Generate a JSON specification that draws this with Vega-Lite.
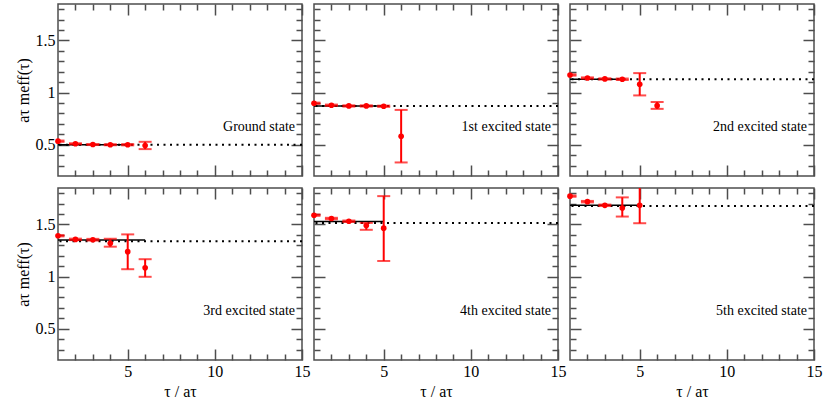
{
  "$schema": "https://vega.github.io/schema/vega-lite/v6.json",
  "padding": {"left": 14, "top": 2, "right": 4, "bottom": 4},
  "background": "white",
  "config": {
    "view": {"stroke": "#4d4d4d", "strokeWidth": 1.5},
    "axis": {
      "grid": false, "domain": false, "tickColor": "#4d4d4d", "tickWidth": 1.5,
      "labelFont": "Liberation Serif, DejaVu Serif, serif", "labelFontSize": 16, "labelColor": "#000",
      "labelPadding": 14, "labelFlush": false,
      "titleFont": "Liberation Serif, DejaVu Serif, serif", "titleFontSize": 16, "titleFontWeight": "normal", "titleColor": "#000"
    },
    "text": {"font": "Liberation Serif, DejaVu Serif, serif"}
  },
  "datasets": {
    "meff": [
      {"state": "g", "tau": 1, "m": 0.534, "lo": 0.528, "hi": 0.540},
      {"state": "g", "tau": 2, "m": 0.509, "lo": 0.504, "hi": 0.514},
      {"state": "g", "tau": 3, "m": 0.502, "lo": 0.497, "hi": 0.507},
      {"state": "g", "tau": 4, "m": 0.500, "lo": 0.495, "hi": 0.505},
      {"state": "g", "tau": 5, "m": 0.500, "lo": 0.494, "hi": 0.506},
      {"state": "g", "tau": 6, "m": 0.493, "lo": 0.458, "hi": 0.528},
      {"state": "g", "plat": 0.499, "fit": 0.500, "f0": 1, "f1": 5, "label": "Ground state"},
      {"state": "e1", "tau": 1, "m": 0.898, "lo": 0.892, "hi": 0.904},
      {"state": "e1", "tau": 2, "m": 0.879, "lo": 0.873, "hi": 0.885},
      {"state": "e1", "tau": 3, "m": 0.872, "lo": 0.866, "hi": 0.878},
      {"state": "e1", "tau": 4, "m": 0.872, "lo": 0.866, "hi": 0.878},
      {"state": "e1", "tau": 5, "m": 0.869, "lo": 0.863, "hi": 0.875},
      {"state": "e1", "tau": 6, "m": 0.581, "lo": 0.330, "hi": 0.834},
      {"state": "e1", "plat": 0.872, "fit": 0.872, "f0": 1, "f1": 5, "label": "1st excited state"},
      {"state": "e2", "tau": 1, "m": 1.169, "lo": 1.163, "hi": 1.175},
      {"state": "e2", "tau": 2, "m": 1.140, "lo": 1.134, "hi": 1.146},
      {"state": "e2", "tau": 3, "m": 1.131, "lo": 1.125, "hi": 1.137},
      {"state": "e2", "tau": 4, "m": 1.128, "lo": 1.121, "hi": 1.135},
      {"state": "e2", "tau": 5, "m": 1.080, "lo": 0.973, "hi": 1.187},
      {"state": "e2", "tau": 6, "m": 0.875, "lo": 0.844, "hi": 0.910},
      {"state": "e2", "plat": 1.128, "fit": 1.128, "f0": 1, "f1": 4, "label": "2nd excited state"},
      {"state": "e3", "tau": 1, "m": 1.392, "lo": 1.386, "hi": 1.398},
      {"state": "e3", "tau": 2, "m": 1.357, "lo": 1.350, "hi": 1.364},
      {"state": "e3", "tau": 3, "m": 1.354, "lo": 1.346, "hi": 1.362},
      {"state": "e3", "tau": 4, "m": 1.319, "lo": 1.287, "hi": 1.363},
      {"state": "e3", "tau": 5, "m": 1.239, "lo": 1.071, "hi": 1.405},
      {"state": "e3", "tau": 6, "m": 1.084, "lo": 0.998, "hi": 1.167},
      {"state": "e3", "plat": 1.338, "fit": 1.350, "f0": 1, "f1": 6, "label": "3rd excited state"},
      {"state": "e4", "tau": 1, "m": 1.589, "lo": 1.583, "hi": 1.595},
      {"state": "e4", "tau": 2, "m": 1.557, "lo": 1.550, "hi": 1.564},
      {"state": "e4", "tau": 3, "m": 1.531, "lo": 1.524, "hi": 1.538},
      {"state": "e4", "tau": 4, "m": 1.490, "lo": 1.449, "hi": 1.515},
      {"state": "e4", "tau": 5, "m": 1.465, "lo": 1.150, "hi": 1.772},
      {"state": "e4", "plat": 1.515, "fit": 1.529, "f0": 1, "f1": 5, "label": "4th excited state"},
      {"state": "e5", "tau": 1, "m": 1.772, "lo": 1.766, "hi": 1.778},
      {"state": "e5", "tau": 2, "m": 1.719, "lo": 1.712, "hi": 1.726},
      {"state": "e5", "tau": 3, "m": 1.684, "lo": 1.677, "hi": 1.691},
      {"state": "e5", "tau": 4, "m": 1.658, "lo": 1.576, "hi": 1.760},
      {"state": "e5", "tau": 5, "m": 1.684, "lo": 1.512, "hi": 1.950},
      {"state": "e5", "plat": 1.677, "fit": 1.684, "f0": 1, "f1": 5, "label": "5th excited state"}
    ]
  },
  "data": {"name": "meff"},
  "columns": 3,
  "spacing": 12,
  "bounds": "flush",
  "concat": [
    {
      "width": 244, "height": 172,
      "transform": [{"filter": "datum.state == 'g'"}],
      "resolve": {"axis": {"x": "independent", "y": "independent"}},
      "layer": [
        {"mark": {"type": "rule", "color": "black", "strokeWidth": 2, "strokeDash": [2, 4.5]},
         "encoding": {"y": {"field": "plat", "type": "quantitative", "scale": {"domain": [0.2, 1.85], "nice": false}, "axis": null}}},
        {"mark": {"type": "rule", "color": "black", "strokeWidth": 1.5},
         "encoding": {"x": {"field": "f0", "type": "quantitative", "scale": {"domain": [1, 15], "nice": false}, "axis": null}, "x2": {"field": "f1"},
                      "y": {"field": "fit", "type": "quantitative", "scale": {"domain": [0.2, 1.85]}, "axis": null}}},
        {"mark": {"type": "rule", "color": "red", "strokeWidth": 2, "clip": true},
         "encoding": {
           "x": {"field": "tau", "type": "quantitative", "scale": {"domain": [1, 15]}, "axis": {"orient": "bottom", "values": [5, 10, 15], "tickSize": -11, "labels": false, "title": null}},
           "y": {"field": "lo", "type": "quantitative", "scale": {"domain": [0.2, 1.85]}, "axis": {"orient": "left", "values": [0.5, 1, 1.5], "tickSize": -11, "format": "~g", "title": "aτ meff(τ)", "titlePadding": 4}},
           "y2": {"field": "hi"}}},
        {"mark": {"type": "tick", "orient": "horizontal", "color": "red", "thickness": 2, "clip": true},
         "encoding": {
           "x": {"field": "tau", "type": "quantitative", "scale": {"domain": [1, 15]}, "axis": {"orient": "top", "values": [5, 10, 15], "tickSize": -11, "labels": false, "title": null}},
           "y": {"field": "lo", "type": "quantitative", "scale": {"domain": [0.2, 1.85]}, "axis": {"orient": "right", "values": [0.5, 1, 1.5], "tickSize": -11, "labels": false, "title": null}},
           "size": {"value": 13}}},
        {"mark": {"type": "tick", "orient": "horizontal", "color": "red", "thickness": 2, "clip": true},
         "encoding": {
           "x": {"field": "tau", "type": "quantitative", "scale": {"domain": [1, 15]}, "axis": {"orient": "bottom", "values": [2, 3, 4, 6, 7, 8, 9, 11, 12, 13, 14], "tickSize": -6, "labels": false, "title": null}},
           "y": {"field": "hi", "type": "quantitative", "scale": {"domain": [0.2, 1.85]}, "axis": {"orient": "left", "values": [0.3, 0.4, 0.6, 0.7, 0.8, 0.9, 1.1, 1.2, 1.3, 1.4, 1.6, 1.7, 1.8], "tickSize": -6, "labels": false, "title": null}},
           "size": {"value": 13}}},
        {"mark": {"type": "point", "filled": true, "color": "red", "size": 32, "opacity": 1},
         "encoding": {
           "x": {"field": "tau", "type": "quantitative", "scale": {"domain": [1, 15]}, "axis": {"orient": "top", "values": [2, 3, 4, 6, 7, 8, 9, 11, 12, 13, 14], "tickSize": -6, "labels": false, "title": null}},
           "y": {"field": "m", "type": "quantitative", "scale": {"domain": [0.2, 1.85]}, "axis": {"orient": "right", "values": [0.3, 0.4, 0.6, 0.7, 0.8, 0.9, 1.1, 1.2, 1.3, 1.4, 1.6, 1.7, 1.8], "tickSize": -6, "labels": false, "title": null}}}},
        {"transform": [{"filter": "isValid(datum.label)"}],
         "mark": {"type": "text", "align": "right", "baseline": "alphabetic", "fontSize": 14, "color": "black"},
         "encoding": {"x": {"datum": 14.6, "type": "quantitative", "axis": null}, "y": {"datum": 0.63, "type": "quantitative", "axis": null}, "text": {"field": "label"}}}
      ]
    },
    {
      "width": 244, "height": 172,
      "transform": [{"filter": "datum.state == 'e1'"}],
      "resolve": {"axis": {"x": "independent", "y": "independent"}},
      "layer": [
        {"mark": {"type": "rule", "color": "black", "strokeWidth": 2, "strokeDash": [2, 4.5]},
         "encoding": {"y": {"field": "plat", "type": "quantitative", "scale": {"domain": [0.2, 1.85], "nice": false}, "axis": null}}},
        {"mark": {"type": "rule", "color": "black", "strokeWidth": 1.5},
         "encoding": {"x": {"field": "f0", "type": "quantitative", "scale": {"domain": [1, 15], "nice": false}, "axis": null}, "x2": {"field": "f1"},
                      "y": {"field": "fit", "type": "quantitative", "scale": {"domain": [0.2, 1.85]}, "axis": null}}},
        {"mark": {"type": "rule", "color": "red", "strokeWidth": 2, "clip": true},
         "encoding": {
           "x": {"field": "tau", "type": "quantitative", "scale": {"domain": [1, 15]}, "axis": {"orient": "bottom", "values": [5, 10, 15], "tickSize": -11, "labels": false, "title": null}},
           "y": {"field": "lo", "type": "quantitative", "scale": {"domain": [0.2, 1.85]}, "axis": {"orient": "left", "values": [0.5, 1, 1.5], "tickSize": -11, "labels": false, "title": null}},
           "y2": {"field": "hi"}}},
        {"mark": {"type": "tick", "orient": "horizontal", "color": "red", "thickness": 2, "clip": true},
         "encoding": {
           "x": {"field": "tau", "type": "quantitative", "scale": {"domain": [1, 15]}, "axis": {"orient": "top", "values": [5, 10, 15], "tickSize": -11, "labels": false, "title": null}},
           "y": {"field": "lo", "type": "quantitative", "scale": {"domain": [0.2, 1.85]}, "axis": {"orient": "right", "values": [0.5, 1, 1.5], "tickSize": -11, "labels": false, "title": null}},
           "size": {"value": 13}}},
        {"mark": {"type": "tick", "orient": "horizontal", "color": "red", "thickness": 2, "clip": true},
         "encoding": {
           "x": {"field": "tau", "type": "quantitative", "scale": {"domain": [1, 15]}, "axis": {"orient": "bottom", "values": [2, 3, 4, 6, 7, 8, 9, 11, 12, 13, 14], "tickSize": -6, "labels": false, "title": null}},
           "y": {"field": "hi", "type": "quantitative", "scale": {"domain": [0.2, 1.85]}, "axis": {"orient": "left", "values": [0.3, 0.4, 0.6, 0.7, 0.8, 0.9, 1.1, 1.2, 1.3, 1.4, 1.6, 1.7, 1.8], "tickSize": -6, "labels": false, "title": null}},
           "size": {"value": 13}}},
        {"mark": {"type": "point", "filled": true, "color": "red", "size": 32, "opacity": 1},
         "encoding": {
           "x": {"field": "tau", "type": "quantitative", "scale": {"domain": [1, 15]}, "axis": {"orient": "top", "values": [2, 3, 4, 6, 7, 8, 9, 11, 12, 13, 14], "tickSize": -6, "labels": false, "title": null}},
           "y": {"field": "m", "type": "quantitative", "scale": {"domain": [0.2, 1.85]}, "axis": {"orient": "right", "values": [0.3, 0.4, 0.6, 0.7, 0.8, 0.9, 1.1, 1.2, 1.3, 1.4, 1.6, 1.7, 1.8], "tickSize": -6, "labels": false, "title": null}}}},
        {"transform": [{"filter": "isValid(datum.label)"}],
         "mark": {"type": "text", "align": "right", "baseline": "alphabetic", "fontSize": 14, "color": "black"},
         "encoding": {"x": {"datum": 14.6, "type": "quantitative", "axis": null}, "y": {"datum": 0.63, "type": "quantitative", "axis": null}, "text": {"field": "label"}}}
      ]
    },
    {
      "width": 244, "height": 172,
      "transform": [{"filter": "datum.state == 'e2'"}],
      "resolve": {"axis": {"x": "independent", "y": "independent"}},
      "layer": [
        {"mark": {"type": "rule", "color": "black", "strokeWidth": 2, "strokeDash": [2, 4.5]},
         "encoding": {"y": {"field": "plat", "type": "quantitative", "scale": {"domain": [0.2, 1.85], "nice": false}, "axis": null}}},
        {"mark": {"type": "rule", "color": "black", "strokeWidth": 1.5},
         "encoding": {"x": {"field": "f0", "type": "quantitative", "scale": {"domain": [1, 15], "nice": false}, "axis": null}, "x2": {"field": "f1"},
                      "y": {"field": "fit", "type": "quantitative", "scale": {"domain": [0.2, 1.85]}, "axis": null}}},
        {"mark": {"type": "rule", "color": "red", "strokeWidth": 2, "clip": true},
         "encoding": {
           "x": {"field": "tau", "type": "quantitative", "scale": {"domain": [1, 15]}, "axis": {"orient": "bottom", "values": [5, 10, 15], "tickSize": -11, "labels": false, "title": null}},
           "y": {"field": "lo", "type": "quantitative", "scale": {"domain": [0.2, 1.85]}, "axis": {"orient": "left", "values": [0.5, 1, 1.5], "tickSize": -11, "labels": false, "title": null}},
           "y2": {"field": "hi"}}},
        {"mark": {"type": "tick", "orient": "horizontal", "color": "red", "thickness": 2, "clip": true},
         "encoding": {
           "x": {"field": "tau", "type": "quantitative", "scale": {"domain": [1, 15]}, "axis": {"orient": "top", "values": [5, 10, 15], "tickSize": -11, "labels": false, "title": null}},
           "y": {"field": "lo", "type": "quantitative", "scale": {"domain": [0.2, 1.85]}, "axis": {"orient": "right", "values": [0.5, 1, 1.5], "tickSize": -11, "labels": false, "title": null}},
           "size": {"value": 13}}},
        {"mark": {"type": "tick", "orient": "horizontal", "color": "red", "thickness": 2, "clip": true},
         "encoding": {
           "x": {"field": "tau", "type": "quantitative", "scale": {"domain": [1, 15]}, "axis": {"orient": "bottom", "values": [2, 3, 4, 6, 7, 8, 9, 11, 12, 13, 14], "tickSize": -6, "labels": false, "title": null}},
           "y": {"field": "hi", "type": "quantitative", "scale": {"domain": [0.2, 1.85]}, "axis": {"orient": "left", "values": [0.3, 0.4, 0.6, 0.7, 0.8, 0.9, 1.1, 1.2, 1.3, 1.4, 1.6, 1.7, 1.8], "tickSize": -6, "labels": false, "title": null}},
           "size": {"value": 13}}},
        {"mark": {"type": "point", "filled": true, "color": "red", "size": 32, "opacity": 1},
         "encoding": {
           "x": {"field": "tau", "type": "quantitative", "scale": {"domain": [1, 15]}, "axis": {"orient": "top", "values": [2, 3, 4, 6, 7, 8, 9, 11, 12, 13, 14], "tickSize": -6, "labels": false, "title": null}},
           "y": {"field": "m", "type": "quantitative", "scale": {"domain": [0.2, 1.85]}, "axis": {"orient": "right", "values": [0.3, 0.4, 0.6, 0.7, 0.8, 0.9, 1.1, 1.2, 1.3, 1.4, 1.6, 1.7, 1.8], "tickSize": -6, "labels": false, "title": null}}}},
        {"transform": [{"filter": "isValid(datum.label)"}],
         "mark": {"type": "text", "align": "right", "baseline": "alphabetic", "fontSize": 14, "color": "black"},
         "encoding": {"x": {"datum": 14.6, "type": "quantitative", "axis": null}, "y": {"datum": 0.63, "type": "quantitative", "axis": null}, "text": {"field": "label"}}}
      ]
    },
    {
      "width": 244, "height": 172,
      "transform": [{"filter": "datum.state == 'e3'"}],
      "resolve": {"axis": {"x": "independent", "y": "independent"}},
      "layer": [
        {"mark": {"type": "rule", "color": "black", "strokeWidth": 2, "strokeDash": [2, 4.5]},
         "encoding": {"y": {"field": "plat", "type": "quantitative", "scale": {"domain": [0.2, 1.85], "nice": false}, "axis": null}}},
        {"mark": {"type": "rule", "color": "black", "strokeWidth": 1.5},
         "encoding": {"x": {"field": "f0", "type": "quantitative", "scale": {"domain": [1, 15], "nice": false}, "axis": null}, "x2": {"field": "f1"},
                      "y": {"field": "fit", "type": "quantitative", "scale": {"domain": [0.2, 1.85]}, "axis": null}}},
        {"mark": {"type": "rule", "color": "red", "strokeWidth": 2, "clip": true},
         "encoding": {
           "x": {"field": "tau", "type": "quantitative", "scale": {"domain": [1, 15]}, "axis": {"orient": "bottom", "values": [5, 10, 15], "tickSize": -11, "format": "~g", "title": "τ / aτ", "titlePadding": 4}},
           "y": {"field": "lo", "type": "quantitative", "scale": {"domain": [0.2, 1.85]}, "axis": {"orient": "left", "values": [0.5, 1, 1.5], "tickSize": -11, "format": "~g", "title": "aτ meff(τ)", "titlePadding": 4}},
           "y2": {"field": "hi"}}},
        {"mark": {"type": "tick", "orient": "horizontal", "color": "red", "thickness": 2, "clip": true},
         "encoding": {
           "x": {"field": "tau", "type": "quantitative", "scale": {"domain": [1, 15]}, "axis": {"orient": "top", "values": [5, 10, 15], "tickSize": -11, "labels": false, "title": null}},
           "y": {"field": "lo", "type": "quantitative", "scale": {"domain": [0.2, 1.85]}, "axis": {"orient": "right", "values": [0.5, 1, 1.5], "tickSize": -11, "labels": false, "title": null}},
           "size": {"value": 13}}},
        {"mark": {"type": "tick", "orient": "horizontal", "color": "red", "thickness": 2, "clip": true},
         "encoding": {
           "x": {"field": "tau", "type": "quantitative", "scale": {"domain": [1, 15]}, "axis": {"orient": "bottom", "values": [2, 3, 4, 6, 7, 8, 9, 11, 12, 13, 14], "tickSize": -6, "labels": false, "title": null}},
           "y": {"field": "hi", "type": "quantitative", "scale": {"domain": [0.2, 1.85]}, "axis": {"orient": "left", "values": [0.3, 0.4, 0.6, 0.7, 0.8, 0.9, 1.1, 1.2, 1.3, 1.4, 1.6, 1.7, 1.8], "tickSize": -6, "labels": false, "title": null}},
           "size": {"value": 13}}},
        {"mark": {"type": "point", "filled": true, "color": "red", "size": 32, "opacity": 1},
         "encoding": {
           "x": {"field": "tau", "type": "quantitative", "scale": {"domain": [1, 15]}, "axis": {"orient": "top", "values": [2, 3, 4, 6, 7, 8, 9, 11, 12, 13, 14], "tickSize": -6, "labels": false, "title": null}},
           "y": {"field": "m", "type": "quantitative", "scale": {"domain": [0.2, 1.85]}, "axis": {"orient": "right", "values": [0.3, 0.4, 0.6, 0.7, 0.8, 0.9, 1.1, 1.2, 1.3, 1.4, 1.6, 1.7, 1.8], "tickSize": -6, "labels": false, "title": null}}}},
        {"transform": [{"filter": "isValid(datum.label)"}],
         "mark": {"type": "text", "align": "right", "baseline": "alphabetic", "fontSize": 14, "color": "black"},
         "encoding": {"x": {"datum": 14.6, "type": "quantitative", "axis": null}, "y": {"datum": 0.63, "type": "quantitative", "axis": null}, "text": {"field": "label"}}}
      ]
    },
    {
      "width": 244, "height": 172,
      "transform": [{"filter": "datum.state == 'e4'"}],
      "resolve": {"axis": {"x": "independent", "y": "independent"}},
      "layer": [
        {"mark": {"type": "rule", "color": "black", "strokeWidth": 2, "strokeDash": [2, 4.5]},
         "encoding": {"y": {"field": "plat", "type": "quantitative", "scale": {"domain": [0.2, 1.85], "nice": false}, "axis": null}}},
        {"mark": {"type": "rule", "color": "black", "strokeWidth": 1.5},
         "encoding": {"x": {"field": "f0", "type": "quantitative", "scale": {"domain": [1, 15], "nice": false}, "axis": null}, "x2": {"field": "f1"},
                      "y": {"field": "fit", "type": "quantitative", "scale": {"domain": [0.2, 1.85]}, "axis": null}}},
        {"mark": {"type": "rule", "color": "red", "strokeWidth": 2, "clip": true},
         "encoding": {
           "x": {"field": "tau", "type": "quantitative", "scale": {"domain": [1, 15]}, "axis": {"orient": "bottom", "values": [5, 10, 15], "tickSize": -11, "format": "~g", "title": "τ / aτ", "titlePadding": 4}},
           "y": {"field": "lo", "type": "quantitative", "scale": {"domain": [0.2, 1.85]}, "axis": {"orient": "left", "values": [0.5, 1, 1.5], "tickSize": -11, "labels": false, "title": null}},
           "y2": {"field": "hi"}}},
        {"mark": {"type": "tick", "orient": "horizontal", "color": "red", "thickness": 2, "clip": true},
         "encoding": {
           "x": {"field": "tau", "type": "quantitative", "scale": {"domain": [1, 15]}, "axis": {"orient": "top", "values": [5, 10, 15], "tickSize": -11, "labels": false, "title": null}},
           "y": {"field": "lo", "type": "quantitative", "scale": {"domain": [0.2, 1.85]}, "axis": {"orient": "right", "values": [0.5, 1, 1.5], "tickSize": -11, "labels": false, "title": null}},
           "size": {"value": 13}}},
        {"mark": {"type": "tick", "orient": "horizontal", "color": "red", "thickness": 2, "clip": true},
         "encoding": {
           "x": {"field": "tau", "type": "quantitative", "scale": {"domain": [1, 15]}, "axis": {"orient": "bottom", "values": [2, 3, 4, 6, 7, 8, 9, 11, 12, 13, 14], "tickSize": -6, "labels": false, "title": null}},
           "y": {"field": "hi", "type": "quantitative", "scale": {"domain": [0.2, 1.85]}, "axis": {"orient": "left", "values": [0.3, 0.4, 0.6, 0.7, 0.8, 0.9, 1.1, 1.2, 1.3, 1.4, 1.6, 1.7, 1.8], "tickSize": -6, "labels": false, "title": null}},
           "size": {"value": 13}}},
        {"mark": {"type": "point", "filled": true, "color": "red", "size": 32, "opacity": 1},
         "encoding": {
           "x": {"field": "tau", "type": "quantitative", "scale": {"domain": [1, 15]}, "axis": {"orient": "top", "values": [2, 3, 4, 6, 7, 8, 9, 11, 12, 13, 14], "tickSize": -6, "labels": false, "title": null}},
           "y": {"field": "m", "type": "quantitative", "scale": {"domain": [0.2, 1.85]}, "axis": {"orient": "right", "values": [0.3, 0.4, 0.6, 0.7, 0.8, 0.9, 1.1, 1.2, 1.3, 1.4, 1.6, 1.7, 1.8], "tickSize": -6, "labels": false, "title": null}}}},
        {"transform": [{"filter": "isValid(datum.label)"}],
         "mark": {"type": "text", "align": "right", "baseline": "alphabetic", "fontSize": 14, "color": "black"},
         "encoding": {"x": {"datum": 14.6, "type": "quantitative", "axis": null}, "y": {"datum": 0.63, "type": "quantitative", "axis": null}, "text": {"field": "label"}}}
      ]
    },
    {
      "width": 244, "height": 172,
      "transform": [{"filter": "datum.state == 'e5'"}],
      "resolve": {"axis": {"x": "independent", "y": "independent"}},
      "layer": [
        {"mark": {"type": "rule", "color": "black", "strokeWidth": 2, "strokeDash": [2, 4.5]},
         "encoding": {"y": {"field": "plat", "type": "quantitative", "scale": {"domain": [0.2, 1.85], "nice": false}, "axis": null}}},
        {"mark": {"type": "rule", "color": "black", "strokeWidth": 1.5},
         "encoding": {"x": {"field": "f0", "type": "quantitative", "scale": {"domain": [1, 15], "nice": false}, "axis": null}, "x2": {"field": "f1"},
                      "y": {"field": "fit", "type": "quantitative", "scale": {"domain": [0.2, 1.85]}, "axis": null}}},
        {"mark": {"type": "rule", "color": "red", "strokeWidth": 2, "clip": true},
         "encoding": {
           "x": {"field": "tau", "type": "quantitative", "scale": {"domain": [1, 15]}, "axis": {"orient": "bottom", "values": [5, 10, 15], "tickSize": -11, "format": "~g", "title": "τ / aτ", "titlePadding": 4}},
           "y": {"field": "lo", "type": "quantitative", "scale": {"domain": [0.2, 1.85]}, "axis": {"orient": "left", "values": [0.5, 1, 1.5], "tickSize": -11, "labels": false, "title": null}},
           "y2": {"field": "hi"}}},
        {"mark": {"type": "tick", "orient": "horizontal", "color": "red", "thickness": 2, "clip": true},
         "encoding": {
           "x": {"field": "tau", "type": "quantitative", "scale": {"domain": [1, 15]}, "axis": {"orient": "top", "values": [5, 10, 15], "tickSize": -11, "labels": false, "title": null}},
           "y": {"field": "lo", "type": "quantitative", "scale": {"domain": [0.2, 1.85]}, "axis": {"orient": "right", "values": [0.5, 1, 1.5], "tickSize": -11, "labels": false, "title": null}},
           "size": {"value": 13}}},
        {"mark": {"type": "tick", "orient": "horizontal", "color": "red", "thickness": 2, "clip": true},
         "encoding": {
           "x": {"field": "tau", "type": "quantitative", "scale": {"domain": [1, 15]}, "axis": {"orient": "bottom", "values": [2, 3, 4, 6, 7, 8, 9, 11, 12, 13, 14], "tickSize": -6, "labels": false, "title": null}},
           "y": {"field": "hi", "type": "quantitative", "scale": {"domain": [0.2, 1.85]}, "axis": {"orient": "left", "values": [0.3, 0.4, 0.6, 0.7, 0.8, 0.9, 1.1, 1.2, 1.3, 1.4, 1.6, 1.7, 1.8], "tickSize": -6, "labels": false, "title": null}},
           "size": {"value": 13}}},
        {"mark": {"type": "point", "filled": true, "color": "red", "size": 32, "opacity": 1},
         "encoding": {
           "x": {"field": "tau", "type": "quantitative", "scale": {"domain": [1, 15]}, "axis": {"orient": "top", "values": [2, 3, 4, 6, 7, 8, 9, 11, 12, 13, 14], "tickSize": -6, "labels": false, "title": null}},
           "y": {"field": "m", "type": "quantitative", "scale": {"domain": [0.2, 1.85]}, "axis": {"orient": "right", "values": [0.3, 0.4, 0.6, 0.7, 0.8, 0.9, 1.1, 1.2, 1.3, 1.4, 1.6, 1.7, 1.8], "tickSize": -6, "labels": false, "title": null}}}},
        {"transform": [{"filter": "isValid(datum.label)"}],
         "mark": {"type": "text", "align": "right", "baseline": "alphabetic", "fontSize": 14, "color": "black"},
         "encoding": {"x": {"datum": 14.6, "type": "quantitative", "axis": null}, "y": {"datum": 0.63, "type": "quantitative", "axis": null}, "text": {"field": "label"}}}
      ]
    }
  ]
}
